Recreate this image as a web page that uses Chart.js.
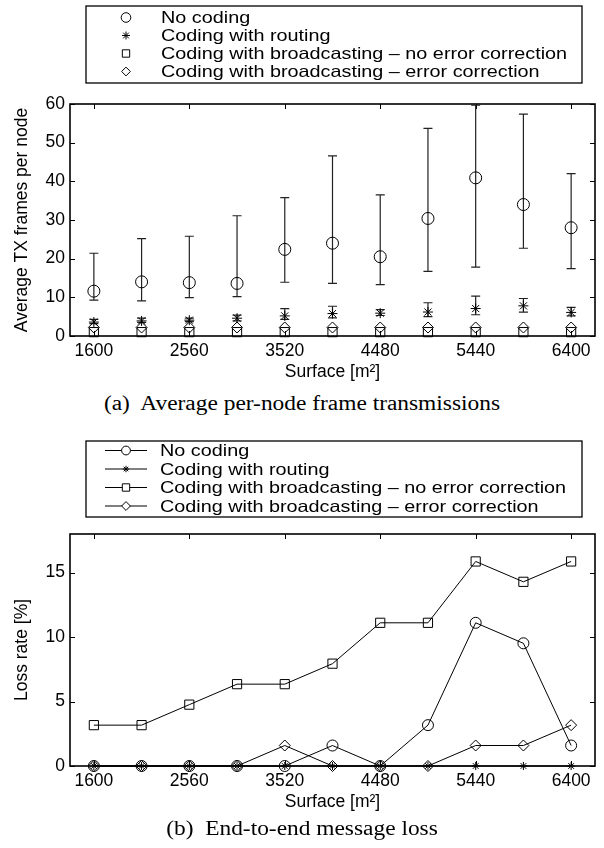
<!DOCTYPE html>
<html>
<head>
<meta charset="utf-8">
<script src="https://cdn.jsdelivr.net/npm/chart.js@4.4.0/dist/chart.umd.min.js"></script>
<style>
  body { margin: 0; background: #fff; width: 604px; height: 848px; position: relative; overflow: hidden; }
  .wrap { position: absolute; left: 0; width: 604px; height: 390px; }
  #w1 { top: 0; }
  #w2 { top: 430px; }
  .cap { position: absolute; left: 0; width: 604px; text-align: center; color: #000;
         font-family: "Liberation Serif", "Times New Roman", serif; font-size: 20px;
         transform: scaleX(1.17); transform-origin: 302px 0; }
</style>
</head>
<body>
<div class="wrap" id="w1"><canvas id="txChart" width="604" height="390"></canvas></div>
<div class="cap" style="top:392px">(a)&nbsp; Average per-node frame transmissions</div>
<div class="wrap" id="w2"><canvas id="lossChart" width="604" height="390"></canvas></div>
<div class="cap" style="top:817px">(b)&nbsp; End-to-end message loss</div>

<script>
const surface = [1600, 2080, 2560, 3040, 3520, 4000, 4480, 4960, 5440, 5920, 6400];
const xTickValues = [1600, 2560, 3520, 4480, 5440, 6400];
const txTickValues = [0, 10, 20, 30, 40, 50, 60];
const lossTickValues = [0, 5, 10, 15];

const seriesNames = [
  "No coding",
  "Coding with routing",
  "Coding with broadcasting \u2013 no error correction",
  "Coding with broadcasting \u2013 error correction"
];

// (a) average TX frames per node (mean + min/max bars)
const txNoCoding     = [11.6, 14.0, 13.8, 13.6, 22.4, 24.0, 20.5, 30.4, 40.9, 34.0, 28.0];
const txNoCodingLow  = [9.3, 9.1, 9.9, 10.2, 13.9, 13.6, 13.3, 16.7, 17.8, 22.7, 17.4];
const txNoCodingHigh = [21.4, 25.2, 25.8, 31.1, 35.8, 46.6, 36.5, 53.7, 59.7, 57.4, 42.0];
const txRouting      = [3.6, 3.9, 4.1, 4.6, 5.2, 5.8, 5.9, 6.2, 7.1, 7.8, 6.1];
const txRoutingLow   = [3.2, 3.5, 3.7, 3.9, 4.3, 4.7, 5.3, 5.0, 5.5, 6.2, 5.2];
const txRoutingHigh  = [4.3, 4.6, 4.6, 5.4, 7.1, 7.7, 6.8, 8.6, 10.3, 9.7, 7.4];
const txBroadNoEc    = [1.0, 1.0, 1.0, 1.0, 1.0, 1.0, 1.0, 1.0, 1.0, 1.0, 1.0];
const txBroadEc      = [2.2, 2.2, 2.2, 2.2, 2.2, 2.2, 2.2, 2.2, 2.2, 2.2, 2.2];

// (b) loss rate [%]
const lossNoCoding  = [0, 0, 0, 0, 0, 1.59, 0, 3.17, 11.11, 9.52, 1.59];
const lossRouting   = [0, 0, 0, 0, 0, 0, 0, 0, 0, 0, 0];
const lossBroadNoEc = [3.17, 3.17, 4.76, 6.35, 6.35, 7.94, 11.11, 11.11, 15.87, 14.29, 15.87];
const lossBroadEc   = [0, 0, 0, 0, 1.59, 0, 0, 0, 1.59, 1.59, 3.17];

const sansFont = "'Liberation Sans', Arial, Helvetica, sans-serif";

function toPoints(values) {
  return values.map((v, i) => ({ x: surface[i], y: v }));
}

// box with inward ticks, drawn below the marks
const frameTicks = {
  id: 'frameTicks',
  beforeDatasetsDraw(chart) {
    const { ctx, chartArea: a, scales } = chart;
    ctx.save();
    ctx.strokeStyle = '#000';
    ctx.lineWidth = 1;
    ctx.beginPath();
    scales.x.ticks.forEach(t => {
      const px = Math.round(scales.x.getPixelForValue(t.value)) + 0.5;
      ctx.moveTo(px, a.bottom); ctx.lineTo(px, a.bottom - 5);
      ctx.moveTo(px, a.top); ctx.lineTo(px, a.top + 5);
    });
    scales.y.ticks.forEach(t => {
      const py = Math.round(scales.y.getPixelForValue(t.value)) + 0.5;
      ctx.moveTo(a.left, py); ctx.lineTo(a.left + 5, py);
      ctx.moveTo(a.right, py); ctx.lineTo(a.right - 5, py);
    });
    ctx.stroke();
    ctx.lineWidth = 1.6;
    ctx.strokeRect(a.left, a.top, a.right - a.left, a.bottom - a.top);
    ctx.restore();
  }
};

// vertical min/max bars with caps
const errorBars = {
  id: 'errorBars',
  beforeDatasetsDraw(chart) {
    const { ctx, scales } = chart;
    ctx.save();
    ctx.strokeStyle = '#222';
    ctx.lineWidth = 1.2;
    chart.data.datasets.forEach(ds => {
      if (!ds.errLow) return;
      ds.data.forEach((p, i) => {
        const px = scales.x.getPixelForValue(p.x);
        const lo = scales.y.getPixelForValue(ds.errLow[i]);
        const hi = scales.y.getPixelForValue(ds.errHigh[i]);
        ctx.beginPath();
        ctx.moveTo(px, lo); ctx.lineTo(px, hi);
        ctx.moveTo(px - 4.5, lo); ctx.lineTo(px + 4.5, lo);
        ctx.moveTo(px - 4.5, hi); ctx.lineTo(px + 4.5, hi);
        ctx.stroke();
      });
    });
    ctx.restore();
  }
};

// matlab-like legend box above the plot
const boxLegend = {
  id: 'boxLegend',
  afterDraw(chart, args, opts) {
    const { ctx } = chart;
    ctx.save();
    ctx.fillStyle = '#fff';
    ctx.fillRect(opts.x, opts.y, opts.w, opts.h);
    ctx.strokeStyle = '#000';
    ctx.lineWidth = 1.3;
    ctx.strokeRect(opts.x, opts.y, opts.w, opts.h);
    ctx.font = '16.5px ' + sansFont;
    ctx.textBaseline = 'middle';
    chart.data.datasets.forEach((ds, i) => {
      const cy = opts.y + opts.rowTop + i * opts.rowStep;
      ctx.strokeStyle = '#000';
      ctx.lineWidth = 1;
      if (opts.withLine) {
        ctx.beginPath();
        ctx.moveTo(opts.lineX0, cy); ctx.lineTo(opts.lineX1, cy);
        ctx.stroke();
      }
      ctx.fillStyle = '#fff';
      Chart.helpers.drawPoint(ctx, {
        pointStyle: ds.pointStyle, radius: ds.pointRadius * 0.8, borderWidth: 1, rotation: 0
      }, opts.markerX, cy);
      ctx.fillStyle = '#000';
      ctx.save();
      ctx.translate(opts.textX, cy + 1);
      ctx.scale(1.2, 1);
      ctx.fillText(ds.label, 0, 0);
      ctx.restore();
    });
    ctx.restore();
  }
};

function makeChart(canvasId, datasets, yTicks, yMax, yTitle, legendOpts) {
  return new Chart(document.getElementById(canvasId), {
    type: 'line',
    data: { datasets: datasets },
    options: {
      responsive: false,
      animation: false,
      layout: { padding: { top: 104, right: 9, left: 0, bottom: 0 } },
      plugins: { legend: { display: false }, tooltip: { enabled: false }, boxLegend: legendOpts },
      scales: {
        x: {
          type: 'linear', min: 1360, max: 6640,
          grid: { display: false, drawTicks: false },
          border: { display: false },
          afterBuildTicks: s => { s.ticks = xTickValues.map(v => ({ value: v })); },
          afterFit: s => { s.height = 54; },
          ticks: { color: '#000', font: { family: sansFont, size: 17.5 }, padding: 5, maxRotation: 0,
                   callback: v => String(v) },
          title: { display: true, text: 'Surface [m\u00b2]', color: '#000',
                   font: { family: sansFont, size: 17.5 }, padding: { top: 0, bottom: 7.5 } }
        },
        y: {
          min: 0, max: yMax,
          grid: { display: false, drawTicks: false },
          border: { display: false },
          afterBuildTicks: s => { s.ticks = yTicks.map(v => ({ value: v })); },
          afterFit: s => { s.width = 70; },
          ticks: { color: '#000', font: { family: sansFont, size: 17.5 }, padding: 5 },
          title: { display: true, text: yTitle, color: '#000',
                   font: { family: sansFont, size: 17.5 }, padding: { top: 11.5, bottom: 0 } }
        }
      }
    },
    plugins: [frameTicks, errorBars, boxLegend]
  });
}

const txDatasets = [
  { label: seriesNames[0], data: toPoints(txNoCoding), errLow: txNoCodingLow, errHigh: txNoCodingHigh,
    pointStyle: 'circle', pointRadius: 6 },
  { label: seriesNames[1], data: toPoints(txRouting), errLow: txRoutingLow, errHigh: txRoutingHigh,
    pointStyle: 'star', pointRadius: 5 },
  { label: seriesNames[2], data: toPoints(txBroadNoEc), pointStyle: 'rect', pointRadius: 6.5 },
  { label: seriesNames[3], data: toPoints(txBroadEc), pointStyle: 'rectRot', pointRadius: 5.5 }
].map(ds => Object.assign(ds, {
  showLine: false, borderColor: '#000', backgroundColor: 'rgba(0,0,0,0)',
  pointBorderWidth: 1, pointBackgroundColor: 'rgba(0,0,0,0)', clip: false
}));

const lossDatasets = [
  { label: seriesNames[0], data: toPoints(lossNoCoding), pointStyle: 'circle', pointRadius: 5.5 },
  { label: seriesNames[1], data: toPoints(lossRouting), pointStyle: 'star', pointRadius: 4 },
  { label: seriesNames[2], data: toPoints(lossBroadNoEc), pointStyle: 'rect', pointRadius: 6.5 },
  { label: seriesNames[3], data: toPoints(lossBroadEc), pointStyle: 'rectRot', pointRadius: 5.5 }
].map(ds => Object.assign(ds, {
  showLine: true, borderColor: '#000', borderWidth: 1, backgroundColor: 'rgba(0,0,0,0)',
  pointBorderWidth: 1, pointBackgroundColor: 'rgba(0,0,0,0)', tension: 0, clip: false
}));

makeChart('txChart', txDatasets, txTickValues, 60, 'Average TX frames per node', {
  x: 86, y: 6, w: 496, h: 77, rowTop: 11.5, rowStep: 18,
  withLine: false, markerX: 126, textX: 161
});

makeChart('lossChart', lossDatasets, lossTickValues, 18, 'Loss rate [%]', {
  x: 86, y: 11, w: 496, h: 76, rowTop: 9.5, rowStep: 18.5,
  withLine: true, lineX0: 105, lineX1: 147, markerX: 126, textX: 160
});
</script>
</body>
</html>
